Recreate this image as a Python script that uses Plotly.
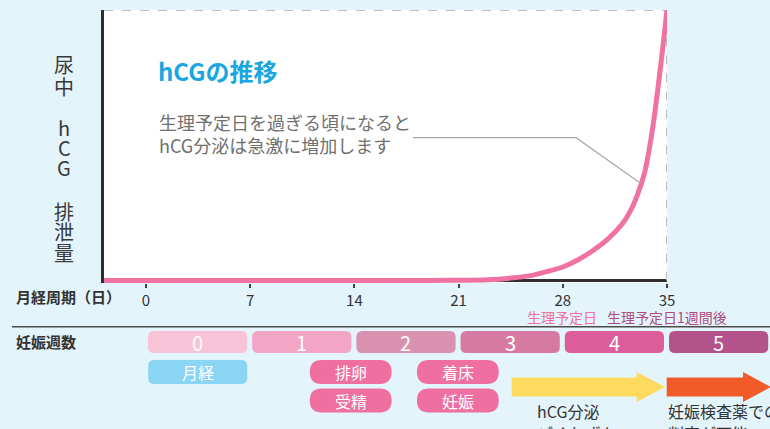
import plotly.graph_objects as go

# hCG excretion curve over the menstrual cycle (relative units, 0-100)
cycle_days = [-3, 0, 7, 14, 19, 21, 23, 24.5, 26, 27, 28, 29, 30, 31, 32, 32.5, 33, 33.5, 34, 34.5, 35]
hcg_level = [0, 0, 0, 0, 0, 0.1, 0.3, 0.9, 2.0, 3.4, 5.0, 7.6, 11.0, 15.2, 21.0, 25.3, 31.5, 40, 55, 76, 100]

day_ticks = [0, 7, 14, 21, 28, 35]
week_labels = ["0", "1", "2", "3", "4", "5"]
week_colors = ["#f8c2d7", "#f3a5c6", "#d991b0", "#d67aa1", "#dc5d99", "#b3528b"]

# events: (label, start day, end day)
events_row1 = [("月経", 0.15, 6.8), ("排卵", 11.0, 16.5), ("着床", 18.2, 23.7)]
events_row2 = [("受精", 11.0, 16.5), ("妊娠", 18.2, 23.7)]

y_title_chars = ["尿", "中", "h", "C", "G", "排", "泄", "量"]

FONT = "Noto Sans CJK JP"
W, H = 770, 429
L, R, T, B = 104, 667, 10, 283          # plot area in pixels
X_MIN, X_MAX = -2.82, 35
Y_ZERO_PX = 280.5
Y_MAX = 100
Y_MIN = -Y_MAX * (B - Y_ZERO_PX) / (Y_ZERO_PX - T)


def px(x):
    return (x - L) / (R - L)


def py(y):
    return (B - y) / (B - T)


def xday(d):
    return L + (d - X_MIN) / (X_MAX - X_MIN) * (R - L)


def pt(x, y):
    return f"{px(x):.5f},{py(y):.5f}"


def rounded_rect(x0, y0, x1, y1, r):
    return (f"M{pt(x0 + r, y0)} L{pt(x1 - r, y0)} Q{pt(x1, y0)} {pt(x1, y0 + r)} "
            f"L{pt(x1, y1 - r)} Q{pt(x1, y1)} {pt(x1 - r, y1)} L{pt(x0 + r, y1)} "
            f"Q{pt(x0, y1)} {pt(x0, y1 - r)} L{pt(x0, y0 + r)} Q{pt(x0, y0)} {pt(x0 + r, y0)} Z")


def arrow(x0, x1, head_x, yc, body_h, head_h):
    return (f"M{pt(x0, yc - body_h / 2)} L{pt(head_x, yc - body_h / 2)} L{pt(head_x, yc - head_h / 2)} "
            f"L{pt(x1, yc)} L{pt(head_x, yc + head_h / 2)} L{pt(head_x, yc + body_h / 2)} "
            f"L{pt(x0, yc + body_h / 2)} Z")


def text_at(x, y, text, size, color, xanchor="left", align="left"):
    return dict(x=px(x), y=py(y), xref="paper", yref="paper", text=text, showarrow=False,
                xanchor=xanchor, yanchor="middle", align=align,
                font=dict(family=FONT, size=size, color=color))


fig = go.Figure()
fig.add_trace(go.Scatter(
    x=cycle_days, y=hcg_level, mode="lines",
    line=dict(color="#f072a2", width=5, shape="spline", smoothing=1.0),
    hoverinfo="skip", showlegend=False,
))

shapes = []
annotations = []

# frame: baseline, dashed top and right edges
shapes.append(dict(type="line", xref="x", yref="y", x0=X_MIN, x1=X_MAX, y0=0, y1=0,
                   line=dict(color="#2e2e2e", width=3), layer="below"))
shapes.append(dict(type="line", xref="x", yref="y", x0=X_MIN, x1=X_MAX, y0=Y_MAX, y1=Y_MAX,
                   line=dict(color="#bdbdbd", width=2, dash="dash"), layer="below"))
shapes.append(dict(type="line", xref="x", yref="y", x0=X_MAX, x1=X_MAX, y0=0, y1=Y_MAX,
                   line=dict(color="#bdbdbd", width=2, dash="dash"), layer="below"))

# leader line from the note to the curve
shapes.append(dict(type="path", xref="paper", yref="paper",
                   path=f"M{pt(413, 137.7)} L{pt(576, 137.7)} L{pt(640.5, 183.3)}",
                   line=dict(color="#a8a8a8", width=1.2)))

# separator between the axis and the week rows
shapes.append(dict(type="line", xref="paper", yref="paper", x0=px(12), x1=px(772),
                   y0=py(326.8), y1=py(326.8), line=dict(color="#4a4a4a", width=1.5)))

# pregnancy week boxes
for i, (lab, col) in enumerate(zip(week_labels, week_colors)):
    x0 = xday(7 * i) + 2
    x1 = xday(7 * i + 7) - 3
    shapes.append(dict(type="path", xref="paper", yref="paper",
                       path=rounded_rect(x0, 331, x1, 353, 6),
                       fillcolor=col, line=dict(width=0)))
    annotations.append(text_at((x0 + x1) / 2, 342.5, lab, 20, "white", xanchor="center", align="center"))

# event pills
for row, (y0, y1) in ((events_row1, (360, 384)), (events_row2, (388.5, 412.5))):
    for lab, d0, d1 in row:
        x0, x1 = xday(d0), xday(d1)
        if lab == "月経":
            col, rad = "#8bd5f4", 6
        else:
            col, rad = "#ef6fa0", 12
        shapes.append(dict(type="path", xref="paper", yref="paper",
                           path=rounded_rect(x0, y0, x1, y1, rad),
                           fillcolor=col, line=dict(width=0)))
        annotations.append(text_at((x0 + x1) / 2, (y0 + y1) / 2, lab, 16, "white",
                                   xanchor="center", align="center"))

# hCG phase arrows
shapes.append(dict(type="path", xref="paper", yref="paper",
                   path=arrow(511.7, 665, 636.7, 387, 19, 30),
                   fillcolor="#fedb5e", line=dict(width=0)))
shapes.append(dict(type="path", xref="paper", yref="paper",
                   path=arrow(666.7, 771, 743, 387, 19, 30),
                   fillcolor="#f15a29", line=dict(width=0)))

annotations.append(text_at(535, 411, "hCG分泌", 16, "#333333"))
annotations.append(text_at(535, 433, "ごくわずか", 16, "#333333"))
annotations.append(text_at(666, 411, "妊娠検査薬での", 16, "#333333"))
annotations.append(text_at(666, 433, "判定が可能", 16, "#333333"))

# row headers
annotations.append(text_at(14, 296, "<b>月経周期（日）</b>", 15, "#333333"))
annotations.append(text_at(14, 341, "<b>妊娠週数</b>", 15, "#333333"))

# expected period markers
annotations.append(text_at(525, 316.5, "生理予定日", 14, "#ee6fa0"))
annotations.append(text_at(605, 316.5, "生理予定日1週間後", 14, "#b04a80"))

# chart title and note
annotations.append(text_at(156, 70, "<b>hCGの推移</b>", 24, "#1aa6e0"))
annotations.append(text_at(157, 133.7, "生理予定日を過ぎる頃になると<br>hCG分泌は急激に増加します",
                           18, "#707070"))

# vertical y-axis title
y_title_pos = [65, 86, 127, 147.5, 168, 211, 231.5, 252]
for ch, yy in zip(y_title_chars, y_title_pos):
    annotations.append(text_at(64, yy, ch, 20, "#3a3a3a", xanchor="center", align="center"))

fig.update_layout(
    width=W, height=H,
    margin=dict(l=L, r=W - R, t=T, b=H - B, pad=0),
    paper_bgcolor="#e3f4fb",
    plot_bgcolor="white",
    showlegend=False,
    shapes=shapes,
    annotations=annotations,
    xaxis=dict(range=[X_MIN, X_MAX], tickvals=day_ticks, ticktext=[str(d) for d in day_ticks],
               showgrid=False, zeroline=False, showline=False,
               ticks="outside", ticklen=4, tickwidth=1.5, tickcolor="#444444",
               tickfont=dict(family=FONT, size=15, color="#333333"), fixedrange=True),
    yaxis=dict(range=[Y_MIN, Y_MAX], showgrid=False, zeroline=False, showticklabels=False,
               showline=True, linewidth=3, linecolor="#2e2e2e", ticks="", fixedrange=True),
)

fig.write_html("out.html")
